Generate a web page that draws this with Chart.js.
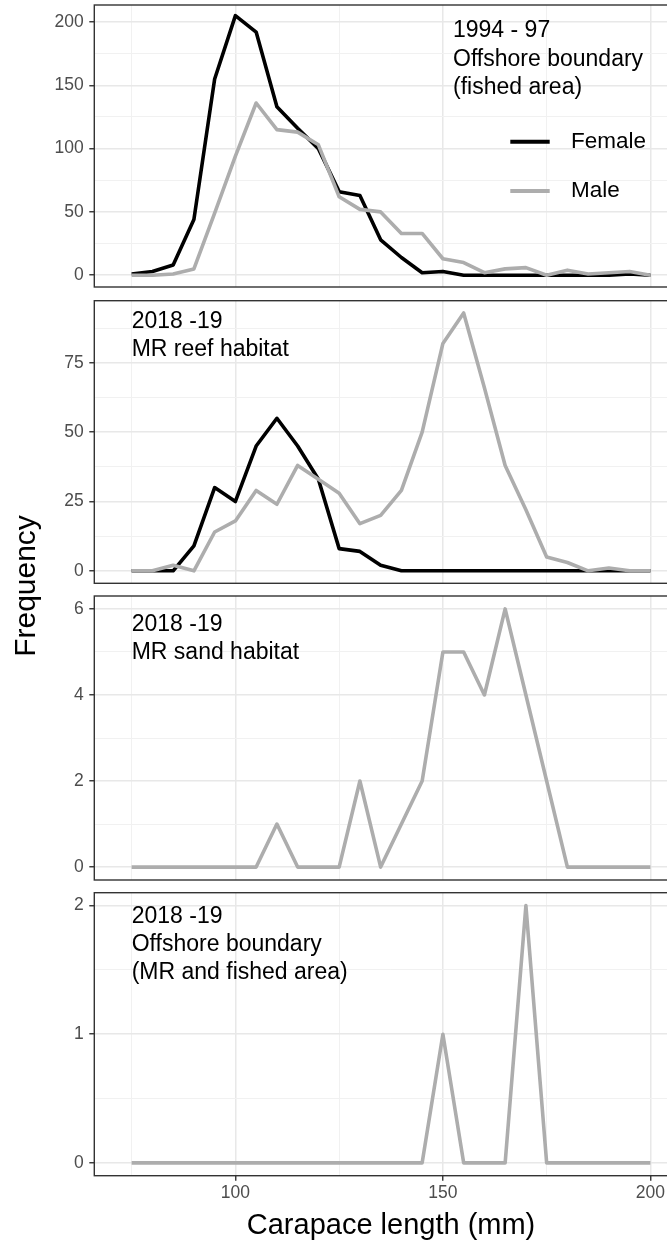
<!DOCTYPE html>
<html>
<head>
<meta charset="utf-8">
<title>Carapace length frequency</title>
<script src="https://cdn.jsdelivr.net/npm/chart.js@4.4.1/dist/chart.umd.min.js"></script>
<style>
  html, body { margin: 0; padding: 0; background: #ffffff; }
  #figure { position: relative; width: 667px; height: 1242px; overflow: hidden; background: #ffffff; }
  #figure canvas { position: absolute; left: 0; top: 0; }
</style>
</head>
<body>
<div id="figure">
  <canvas id="p1" width="720" height="1242"></canvas>
  <canvas id="p2" width="720" height="1242"></canvas>
  <canvas id="p3" width="720" height="1242"></canvas>
  <canvas id="p4" width="720" height="1242"></canvas>
</div>
<script>
// Carapace length classes (mm)
const lengthsMm = [75, 80, 85, 90, 95, 100, 105, 110, 115, 120, 125, 130, 135, 140, 145, 150, 155, 160, 165, 170, 175, 180, 185, 190, 195, 200];

// 1994-97, offshore boundary (fished area)
const offshore9497Female = [1, 3, 8, 44, 155, 205, 192, 133, 116, 100, 66, 63, 28, 14, 2, 3, 0, 0, 0, 0, 0, 0, 0, 0, 1, 0];
const offshore9497Male   = [0, 0, 1, 5, 49, 94, 136, 115, 113, 103, 62, 52, 50, 33, 33, 13, 10, 2, 5, 6, 0, 4, 1, 2, 3, 0];

// 2018-19, MR reef habitat
const reefFemale = [0, 0, 0, 9, 30, 25, 45, 55, 45, 33, 8, 7, 2, 0, 0, 0, 0, 0, 0, 0, 0, 0, 0, 0, 0, 0];
const reefMale   = [0, 0, 2, 0, 14, 18, 29, 24, 38, 33, 28, 17, 20, 29, 50, 82, 93, 66, 38, 22, 5, 3, 0, 1, 0, 0];

// 2018-19, MR sand habitat
const sandMale = [0, 0, 0, 0, 0, 0, 0, 1, 0, 0, 0, 2, 0, 1, 2, 5, 5, 4, 6, 4, 2, 0, 0, 0, 0, 0];

// 2018-19, offshore boundary (MR and fished area)
const offshore1819Male = [0, 0, 0, 0, 0, 0, 0, 0, 0, 0, 0, 0, 0, 0, 0, 1, 0, 0, 0, 2, 0, 0, 0, 0, 0, 0];

// Axis breaks (all = major + minor grid lines, major = labelled)
const xBreaks = [75, 100, 125, 150, 175, 200];
const xLabelled = [100, 150, 200];
const p1Breaks = [0, 25, 50, 75, 100, 125, 150, 175, 200];
const p1Labelled = [0, 50, 100, 150, 200];
const p2Breaks = [0, 12.5, 25, 37.5, 50, 62.5, 75, 87.5];
const p2Labelled = [0, 25, 50, 75];
const p3Breaks = [0, 1, 2, 3, 4, 5, 6];
const p3Labelled = [0, 2, 4, 6];
const p4Breaks = [0, 0.5, 1, 1.5, 2];
const p4Labelled = [0, 1, 2];

// Panel captions
const p1Caption = ['1994 - 97', 'Offshore boundary', '(fished area)'];
const p2Caption = ['2018 -19', 'MR reef habitat'];
const p3Caption = ['2018 -19', 'MR sand habitat'];
const p4Caption = ['2018 -19', 'Offshore boundary', '(MR and fished area)'];

const FONT = "'Liberation Sans', Arial, Helvetica, sans-serif";
const SERIES_COLOURS = { Female: '#000000', Male: '#adadad' };
const CANVAS_H = 1242;
const CANVAS_W = 720;
const AREA_LEFT = 94.3;
const AREA_RIGHT = 687.75;
const X_MIN = 66, X_MAX = 209;

const isIn = (arr, v) => arr.some(m => Math.abs(m - v) < 1e-9);

function zeroPad(s) {
  s.paddingTop = 0; s.paddingBottom = 0; s.paddingLeft = 0; s.paddingRight = 0;
}

function gridStyle(major, drawTicks) {
  return {
    color: c => (c.tick && isIn(major, c.tick.value)) ? '#e8e8e8' : '#f1f1f1',
    lineWidth: c => (c.tick && isIn(major, c.tick.value)) ? 1.5 : 1,
    drawTicks: drawTicks,
    tickLength: 5,
    tickWidth: 1.4,
    tickColor: c => (c.tick && isIn(major, c.tick.value)) ? '#333333' : 'rgba(0,0,0,0)'
  };
}

// Border around each panel, drawn over the lines
const panelFrame = {
  id: 'panelFrame',
  afterDatasetsDraw(chart) {
    const { ctx, chartArea: a } = chart;
    ctx.save();
    ctx.strokeStyle = '#333333';
    ctx.lineWidth = 1.4;
    ctx.strokeRect(a.left, a.top, a.right - a.left, a.bottom - a.top);
    ctx.restore();
  }
};

// Multi-line caption in the top-left/top-right of a panel
const panelCaption = {
  id: 'panelCaption',
  afterDatasetsDraw(chart, args, o) {
    if (!o.lines) return;
    const { ctx, chartArea: a } = chart;
    ctx.save();
    ctx.font = `${o.size}px ${FONT}`;
    ctx.fillStyle = '#000000';
    ctx.textAlign = 'left';
    ctx.textBaseline = 'middle';
    o.lines.forEach((t, i) => ctx.fillText(t, a.left + o.dx, a.top + o.dy + i * o.step));
    ctx.restore();
  }
};

// Legend placed inside the first panel
const insideLegend = {
  id: 'insideLegend',
  afterDatasetsDraw(chart, args, o) {
    if (!o.show) return;
    const { ctx, chartArea: a } = chart;
    ctx.save();
    ctx.font = `${o.size}px ${FONT}`;
    ctx.textAlign = 'left';
    ctx.textBaseline = 'middle';
    chart.data.datasets.forEach((ds, i) => {
      const y = a.top + o.dy + i * o.step;
      ctx.strokeStyle = ds.borderColor;
      ctx.lineWidth = o.lineWidth;
      ctx.beginPath();
      ctx.moveTo(a.left + o.lineFrom, y);
      ctx.lineTo(a.left + o.lineTo, y);
      ctx.stroke();
      ctx.fillStyle = '#000000';
      ctx.fillText(ds.label, a.left + o.textAt, y);
    });
    ctx.restore();
  }
};

// Shared vertical axis title spanning all panels
const sideTitle = {
  id: 'sideTitle',
  afterDraw(chart, args, o) {
    if (!o.text) return;
    const ctx = chart.ctx;
    ctx.save();
    ctx.translate(o.x, o.y);
    ctx.rotate(-Math.PI / 2);
    ctx.font = `${o.size}px ${FONT}`;
    ctx.fillStyle = '#000000';
    ctx.textAlign = 'center';
    ctx.textBaseline = 'middle';
    ctx.fillText(o.text, 0, 0);
    ctx.restore();
  }
};

const panels = [
  { id: 'p1', top: 5, bottom: 287, yMin: -9.3, yMax: 213.4, breaks: p1Breaks, labelled: p1Labelled,
    series: [{ label: 'Female', values: offshore9497Female }, { label: 'Male', values: offshore9497Male }],
    caption: { lines: p1Caption, dx: 358.7, dy: 25.8, step: 28.4, size: 23 },
    legend: { show: true, dy: 136.8, step: 49.3, lineFrom: 416, lineTo: 455.4, textAt: 476.7, lineWidth: 4, size: 22.5 } },
  { id: 'p2', top: 300.7, bottom: 583.3, yMin: -4.5, yMax: 97.4, breaks: p2Breaks, labelled: p2Labelled,
    series: [{ label: 'Female', values: reefFemale }, { label: 'Male', values: reefMale }],
    caption: { lines: p2Caption, dx: 37.4, dy: 20.6, step: 28.6, size: 23 } },
  { id: 'p3', top: 596, bottom: 880, yMin: -0.3, yMax: 6.3, breaks: p3Breaks, labelled: p3Labelled,
    series: [{ label: 'Male', values: sandMale }],
    caption: { lines: p3Caption, dx: 37.4, dy: 28.7, step: 28.2, size: 23 } },
  { id: 'p4', top: 892.7, bottom: 1175.7, yMin: -0.1, yMax: 2.1, breaks: p4Breaks, labelled: p4Labelled,
    series: [{ label: 'Male', values: offshore1819Male }],
    caption: { lines: p4Caption, dx: 37.4, dy: 24.1, step: 27.9, size: 23 },
    bottomAxis: true }
];

Chart.defaults.font.family = FONT;

panels.forEach(p => {
  const datasets = p.series.map(s => ({
    label: s.label,
    data: lengthsMm.map((x, i) => ({ x: x, y: s.values[i] })),
    borderColor: SERIES_COLOURS[s.label],
    backgroundColor: SERIES_COLOURS[s.label],
    borderWidth: 3.6,
    borderJoinStyle: 'round',
    pointRadius: 0,
    tension: 0,
    fill: false,
    order: s.label === 'Male' ? 0 : 1
  }));

  const bottom = !!p.bottomAxis;

  new Chart(document.getElementById(p.id), {
    type: 'line',
    data: { datasets: datasets },
    options: {
      responsive: false,
      animation: false,
      devicePixelRatio: 1,
      layout: {
        padding: {
          top: p.top,
          left: 0,
          right: CANVAS_W - AREA_RIGHT,
          bottom: bottom ? 0 : CANVAS_H - p.bottom
        }
      },
      scales: {
        x: {
          type: 'linear',
          min: X_MIN,
          max: X_MAX,
          afterBuildTicks: s => { s.ticks = xBreaks.map(v => ({ value: v })); },
          ticks: {
            display: bottom,
            autoSkip: false,
            maxRotation: 0,
            padding: 2,
            color: '#4d4d4d',
            font: { family: FONT, size: 17.5 },
            callback: v => isIn(xLabelled, v) ? String(v) : ''
          },
          grid: gridStyle(xLabelled, bottom),
          border: { display: false },
          title: {
            display: bottom,
            text: 'Carapace length (mm)',
            color: '#000000',
            font: { family: FONT, size: 29, lineHeight: 1 },
            padding: { top: 0, bottom: 2 }
          },
          afterFit: s => { s.height = bottom ? CANVAS_H - p.bottom : 0; zeroPad(s); }
        },
        y: {
          type: 'linear',
          min: p.yMin,
          max: p.yMax,
          afterBuildTicks: s => { s.ticks = p.breaks.map(v => ({ value: v })); },
          ticks: {
            autoSkip: false,
            padding: 5.5,
            color: '#4d4d4d',
            font: { family: FONT, size: 17.5 },
            callback: v => isIn(p.labelled, v) ? String(v) : ''
          },
          grid: gridStyle(p.labelled, true),
          border: { display: false },
          afterFit: s => { s.width = AREA_LEFT; zeroPad(s); }
        }
      },
      plugins: {
        legend: { display: false },
        tooltip: { enabled: false },
        title: { display: false },
        panelCaption: p.caption,
        insideLegend: p.legend || { show: false },
        sideTitle: bottom ? { text: 'Frequency', x: 27, y: 586, size: 30 } : {}
      }
    },
    plugins: [panelFrame, panelCaption, insideLegend, sideTitle]
  });
});
</script>
</body>
</html>
